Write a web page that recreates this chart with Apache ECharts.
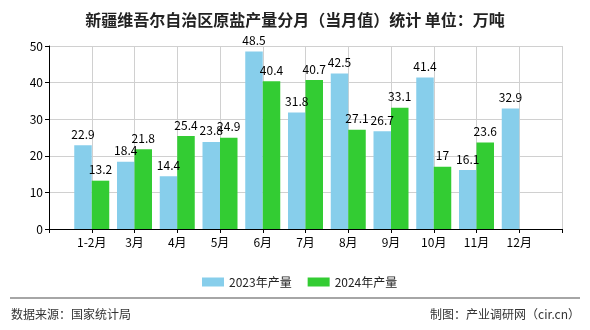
<!DOCTYPE html>
<html>
<head>
<meta charset="utf-8">
<script src="https://cdn.jsdelivr.net/npm/echarts@6/dist/echarts.min.js"></script>
<style>html,body{margin:0;padding:0;background:#fff}#c{width:590px;height:330px}</style>
</head>
<body>
<div id="c"></div>
<script>
var categories = ['', '1-2月', '3月', '4月', '5月', '6月', '7月', '8月', '9月', '10月', '11月', '12月', ''];
var series2023 = [null, 22.9, 18.4, 14.4, 23.8, 48.5, 31.8, 42.5, 26.7, 41.4, 16.1, 32.9, null];
var series2024 = [null, 13.2, 21.8, 25.4, 24.9, 40.4, 40.7, 27.1, 33.1, 17, 23.6, null, null];
var yTicks = [0, 10, 20, 30, 40, 50];
var seriesNames = ['2023年产量', '2024年产量'];
var titleText = '新疆维吾尔自治区原盐产量分月（当月值）统计 单位：万吨';
var sourceText = '数据来源：国家统计局';
var makerText = '制图：产业调研网（cir.cn）';

var FONT = 'SimSun, "Noto Sans CJK SC", sans-serif';
var chart = echarts.init(document.getElementById('c'), null, {renderer: 'canvas'});
chart.setOption({
  animation: false,
  backgroundColor: '#fff',
  title: {
    text: titleText, left: 'center', top: 7,
    textStyle: {fontSize: 16, fontWeight: 'bold', color: '#222', fontFamily: '"Noto Sans CJK SC", sans-serif'}
  },
  legend: {
    data: seriesNames, left: 197, top: 271, icon: 'rect',
    itemWidth: 22, itemHeight: 9, itemGap: 16,
    textStyle: {fontSize: 12, color: '#222', fontFamily: '"Noto Sans CJK SC", sans-serif'}
  },
  grid: {left: 49, right: 28, top: 46, bottom: 101},
  xAxis: {
    type: 'category', data: categories, boundaryGap: false,
    axisLine: {lineStyle: {color: '#000'}},
    axisTick: {show: true, length: 4, lineStyle: {color: '#000'}, interval: 0},
    axisLabel: {color: '#000', fontSize: 12, fontFamily: FONT, interval: 0, margin: 7},
    splitLine: {show: true, interval: 0, lineStyle: {color: '#d0d0d0'}}
  },
  yAxis: {
    type: 'value', min: yTicks[0], max: yTicks[yTicks.length - 1], interval: 10,
    axisLine: {show: true, lineStyle: {color: '#000'}},
    axisTick: {show: true, length: 4, lineStyle: {color: '#000'}},
    axisLabel: {color: '#000', fontSize: 12, fontFamily: FONT, margin: 6},
    splitLine: {show: true, lineStyle: {color: '#d0d0d0'}}
  },
  series: [
    {
      name: seriesNames[0], type: 'bar', data: series2023, barWidth: 17.5, barGap: '0%',
      itemStyle: {color: '#87CEEB'},
      label: {show: true, position: 'top', distance: 5, color: '#000', fontSize: 12, fontFamily: FONT}
    },
    {
      name: seriesNames[1], type: 'bar', data: series2024, barWidth: 17.5, barGap: '0%',
      itemStyle: {color: '#33CC33'},
      label: {show: true, position: 'top', distance: 5, color: '#000', fontSize: 12, fontFamily: FONT}
    }
  ],
  graphic: [
    {type: 'line', shape: {x1: 10, y1: 298, x2: 580, y2: 298}, style: {stroke: '#888', lineWidth: 1.5}},
    {type: 'text', left: 11, top: 308, style: {text: sourceText, fontSize: 12, fill: '#333', fontFamily: '"Noto Sans CJK SC", sans-serif'}},
    {type: 'text', right: 10, top: 308, style: {text: makerText, fontSize: 12, fill: '#333', fontFamily: '"Noto Sans CJK SC", sans-serif'}}
  ]
});
</script>
</body>
</html>
